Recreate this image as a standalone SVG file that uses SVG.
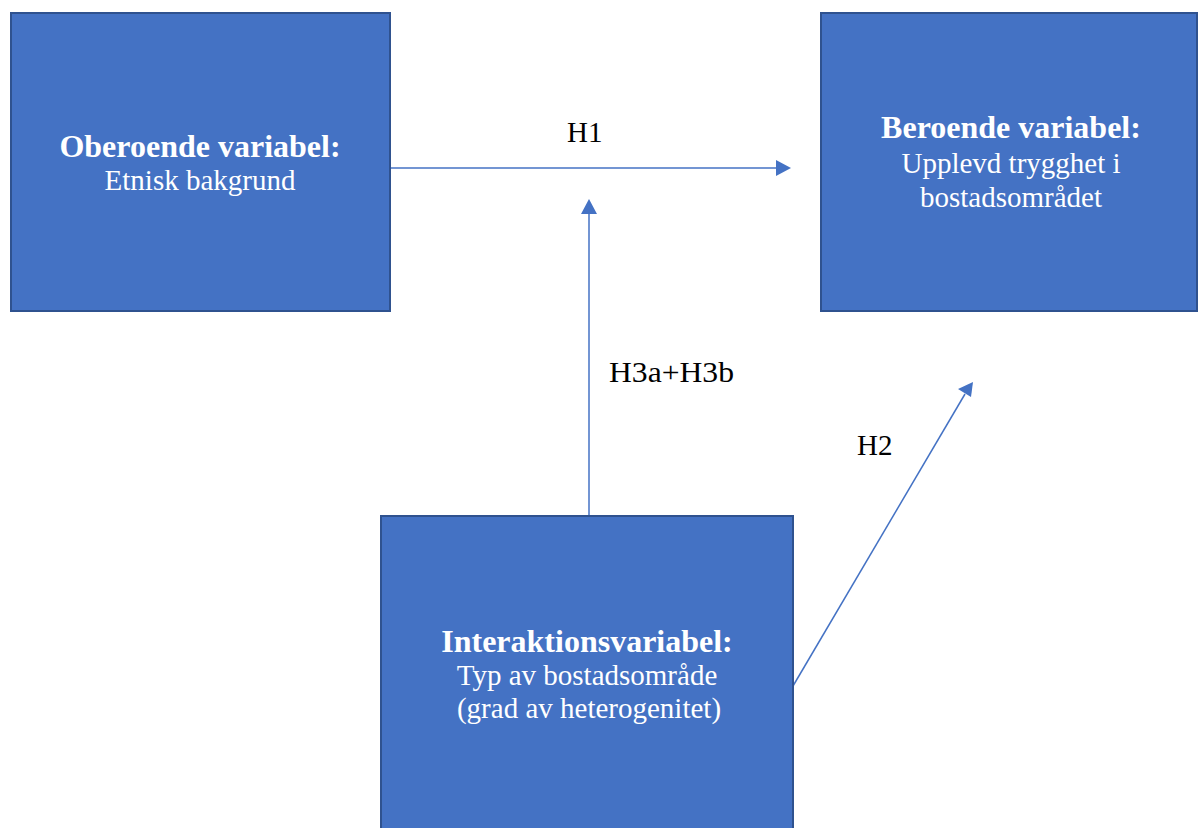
<svg xmlns="http://www.w3.org/2000/svg" width="1198" height="828" viewBox="0 0 1198 828">
<style>
.box{fill:#4472c4;stroke:#2f528f;stroke-width:2}
.t{font-family:"Liberation Serif","Times New Roman",serif;font-size:29px;fill:#ffffff;text-anchor:middle}
.b{font-weight:bold;font-size:32px}
.lbl{font-family:"Liberation Serif","Times New Roman",serif;font-size:29px;fill:#000000}
.c{stroke:#4472c4;stroke-width:1.5;fill:none}
</style>
<rect width="1198" height="828" fill="#ffffff"/>
<g id="connectors">
<line class="c" x1="391" y1="168" x2="777" y2="168"/>
<path d="M776,160 L791,168 L776,176 z" fill="#4472c4"/>
<line class="c" x1="589" y1="516" x2="589" y2="213"/>
<path d="M581,214 L589,199 L597,214 z" fill="#4472c4"/>
<line class="c" x1="793" y1="686" x2="965" y2="394"/>
<path d="M958,389 L973,382 L971,397 z" fill="#4472c4"/>
<text class="lbl" x="567" y="142">H1</text>
<text class="lbl" x="609" y="382" textLength="125" lengthAdjust="spacingAndGlyphs">H3a+H3b</text>
<text class="lbl" x="857" y="455">H2</text>
</g>
<g id="oberoende">
<rect class="box" x="11" y="13" width="379" height="298"/>
<text class="t b" x="200" y="157">Oberoende variabel:</text>
<text class="t" x="200" y="190">Etnisk bakgrund</text>
</g>
<g id="beroende">
<rect class="box" x="821" y="13" width="376" height="298"/>
<text class="t b" x="1011" y="138">Beroende variabel:</text>
<text class="t" x="1011" y="173">Upplevd trygghet i</text>
<text class="t" x="1011" y="207">bostadsområdet</text>
</g>
<g id="interaktion">
<rect class="box" x="381" y="516" width="412" height="330"/>
<text class="t b" x="587" y="652">Interaktionsvariabel:</text>
<text class="t" x="587" y="685">Typ av bostadsområde</text>
<text class="t" x="589" y="718">(grad av heterogenitet)</text>
</g>
</svg>
